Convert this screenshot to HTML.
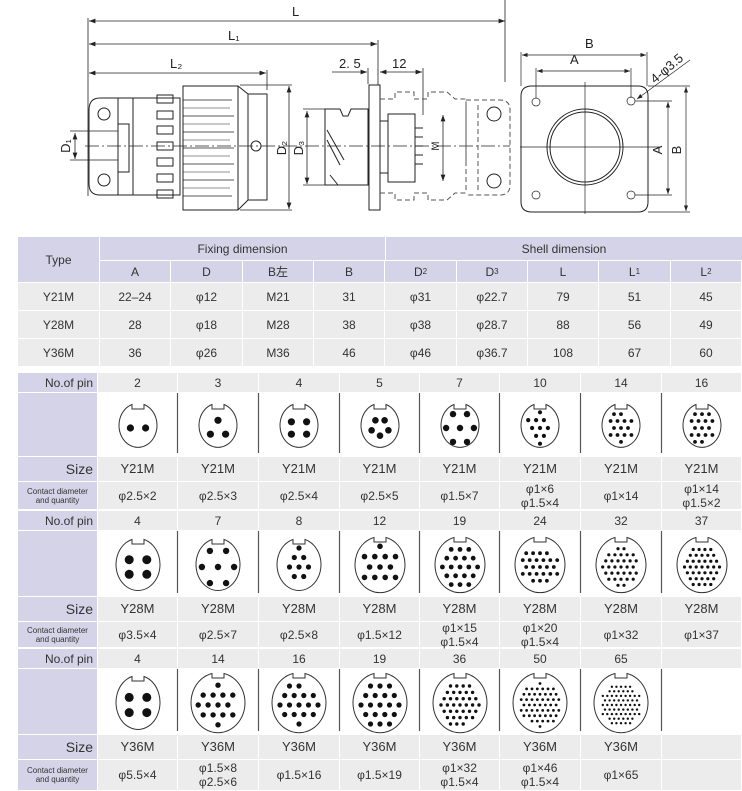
<!DOCTYPE html>
<html><head><meta charset="utf-8"><style>
body{margin:0;width:742px;height:791px;background:#fff;position:relative;overflow:hidden;font-family:"Liberation Sans","Noto Sans CJK SC",sans-serif;color:#333}
.c{position:absolute;display:flex;align-items:center;justify-content:center;text-align:center;font-size:12px;line-height:14px}
.lav{background:#d5d3e7}.gr{background:#ececec}
svg{position:absolute;left:0;top:0}
</style></head><body>
<svg width="742" height="230" viewBox="0 0 742 230" fill="none" stroke="#222" stroke-width="1" font-family="Liberation Sans" font-size="13">
<defs><marker id="a" markerWidth="8" markerHeight="6" refX="8" refY="3" orient="auto-start-reverse"><path d="M0,0L8,3L0,6z" fill="#222" stroke="none"/></marker></defs>
<g stroke-width="0.8">
<line x1="88" y1="18" x2="88" y2="196"/>
<line x1="89" y1="21" x2="505" y2="21" marker-start="url(#a)" marker-end="url(#a)"/>
<line x1="89" y1="44" x2="377" y2="44" marker-start="url(#a)" marker-end="url(#a)"/>
<line x1="89" y1="73" x2="266" y2="73" marker-start="url(#a)" marker-end="url(#a)"/>
<line x1="267" y1="70" x2="267" y2="90"/>
<line x1="378" y1="40" x2="378" y2="85"/>
<line x1="505" y1="0" x2="505" y2="82"/>
<line x1="75" y1="133" x2="75" y2="159" marker-start="url(#a)" marker-end="url(#a)"/>
<line x1="70" y1="131" x2="118" y2="131"/><line x1="70" y1="160" x2="118" y2="160"/>
<line x1="289" y1="86" x2="289" y2="209" marker-start="url(#a)" marker-end="url(#a)"/>
<line x1="240" y1="85" x2="292" y2="85"/><line x1="240" y1="210" x2="292" y2="210"/>
<line x1="307" y1="111" x2="307" y2="184" marker-start="url(#a)" marker-end="url(#a)"/>
<line x1="303" y1="109" x2="325" y2="109"/><line x1="303" y1="185" x2="325" y2="185"/>
<line x1="332" y1="72" x2="367" y2="72" marker-end="url(#a)"/>
<line x1="368" y1="68" x2="368" y2="84"/>
<line x1="380" y1="72" x2="422" y2="72" marker-start="url(#a)" marker-end="url(#a)"/>
<line x1="423" y1="68" x2="423" y2="115"/>
<line x1="443" y1="115" x2="443" y2="181" marker-start="url(#a)" marker-end="url(#a)"/>
<line x1="85" y1="146" x2="510" y2="146" stroke-dasharray="14,3,2,3"/>
</g>
<text x="292" y="16" stroke="none" fill="#222">L</text>
<text x="228" y="40" stroke="none" fill="#222">L₁</text>
<text x="170" y="68" stroke="none" fill="#222">L₂</text>
<text x="339" y="68" stroke="none" fill="#222">2. 5</text>
<text x="392" y="68" stroke="none" fill="#222">12</text>
<text transform="translate(70,146) rotate(-90)" text-anchor="middle" stroke="none" fill="#222">D₁</text>
<text transform="translate(286,148) rotate(-90)" text-anchor="middle" stroke="none" fill="#222">D₂</text>
<text transform="translate(303,148) rotate(-90)" text-anchor="middle" stroke="none" fill="#222">D₃</text>
<text transform="translate(439,146) rotate(-90)" text-anchor="middle" stroke="none" fill="#222" font-size="11">M</text>
<path d="M118,98H100Q89,98 89,110V184Q89,195 100,195H118Z"/>
<circle cx="104" cy="114" r="6"/><circle cx="104" cy="180" r="6"/>
<rect x="118" y="98" width="15" height="97"/><rect x="133" y="98" width="47" height="97"/>
<rect x="118" y="124" width="11" height="48"/>
<g>
<rect x="157" y="95" width="16" height="8"/><rect x="157" y="111" width="16" height="8"/><rect x="157" y="126" width="16" height="8"/><rect x="157" y="142" width="16" height="8"/><rect x="157" y="158" width="16" height="8"/><rect x="157" y="174" width="16" height="8"/><rect x="157" y="190" width="16" height="8"/>
</g>
<path d="M183,86H238V210H183Z"/>
<path d="M183,100H232M183,116H234M183,132H234M183,148H234M183,164H234M183,180H234M183,196H232" stroke-width="0.8"/>
<path d="M183,108H230M183,124H230M183,140H230M183,156H230M183,172H230M183,188H230" stroke-width="0.6"/>
<path d="M238,86L248,94V200L238,210"/>
<rect x="248" y="94" width="19" height="106"/>
<circle cx="256" cy="146" r="5"/>
<path d="M325,109H340L343,116H348L351,109H368V185H325Z"/>
<path d="M327,130L344,160M327,140L340,165M330,175L338,185"/>
<rect x="369" y="85" width="11" height="125"/>
<rect x="380" y="121" width="8" height="52"/>
<rect x="388" y="114" width="27" height="68"/>
<path d="M415,128H423M415,137H423M415,146H423M415,155H423M415,164H423"/>
<g stroke-dasharray="5,3" stroke="#555">
<path d="M380,99H395V92H414V99H428V92H447L455,99H466V165M380,193H395V200H414V193H428V200H447L455,193H466"/>
<path d="M466,100H500Q510,100 510,110V185Q510,195 500,195H466"/>
<path d="M466,105V190M478,105V190"/>
</g>
<circle cx="494" cy="114" r="7"/><circle cx="494" cy="181" r="7"/>
<path d="M532,86H638Q648,86 648,96V202Q648,212 638,212H532Q521,212 521,202V96Q521,86 532,86Z"/>
<circle cx="585" cy="147" r="38"/><circle cx="585" cy="147" r="35"/>
<g stroke-width="0.7">
<circle cx="536" cy="102" r="4"/><circle cx="631" cy="101" r="4"/><circle cx="536" cy="195" r="4"/><circle cx="631" cy="195" r="4"/>
<line x1="585" y1="82" x2="585" y2="214"/><line x1="520" y1="147" x2="660" y2="147"/>
<line x1="521" y1="52" x2="521" y2="86"/><line x1="647" y1="52" x2="647" y2="86"/>
<line x1="522" y1="55" x2="646" y2="55" marker-start="url(#a)" marker-end="url(#a)"/>
<line x1="536" y1="68" x2="536" y2="98"/><line x1="631" y1="68" x2="631" y2="98"/>
<line x1="537" y1="71" x2="630" y2="71" marker-start="url(#a)" marker-end="url(#a)"/>
<line x1="635" y1="101" x2="672" y2="101"/><line x1="635" y1="195" x2="672" y2="195"/>
<line x1="668" y1="102" x2="668" y2="194" marker-start="url(#a)" marker-end="url(#a)"/>
<line x1="648" y1="86" x2="690" y2="86"/><line x1="648" y1="212" x2="690" y2="212"/>
<line x1="686" y1="87" x2="686" y2="211" marker-start="url(#a)" marker-end="url(#a)"/>
<line x1="690" y1="60" x2="637" y2="99" marker-end="url(#a)"/>
</g>
<text x="585" y="48" stroke="none" fill="#222">B</text>
<text x="570" y="64" stroke="none" fill="#222">A</text>
<text transform="translate(662,150) rotate(-90)" text-anchor="middle" stroke="none" fill="#222">A</text>
<text transform="translate(681,150) rotate(-90)" text-anchor="middle" stroke="none" fill="#222">B</text>
<text transform="translate(655,84) rotate(-40)" stroke="none" fill="#222">4-φ3.5</text>
</svg>

<div class="c lav" style="left:18px;top:237px;width:81px;height:45px">Type</div>
<div class="c lav" style="left:100px;top:237px;width:285px;height:23px">Fixing dimension</div>
<div class="c lav" style="left:386px;top:237px;width:356px;height:23px">Shell dimension</div>
<div id="t1"></div>

<div id="t2"></div>
<svg id="faces" width="742" height="791"></svg>

<script>
var t1=document.getElementById('t1'),h='';
var cols=['A','D','B左','B','D<sub style="font-size:8px">2</sub>','D<sub style="font-size:8px">3</sub>','L','L<sub style="font-size:8px">1</sub>','L<sub style="font-size:8px">2</sub>'];
var rows=[['Y21M','22–24','φ12','M21','31','φ31','φ22.7','79','51','45'],['Y28M','28','φ18','M28','38','φ38','φ28.7','88','56','49'],['Y36M','36','φ26','M36','46','φ46','φ36.7','108','67','60']];
function cx(i){return Math.round(100+i*71.33);}
for(var i=0;i<9;i++)h+='<div class="c lav" style="left:'+cx(i)+'px;top:261px;width:'+(cx(i+1)-cx(i)-1)+'px;height:21px">'+cols[i]+'</div>';
for(var r=0;r<3;r++){var y=283+r*28;h+='<div class="c gr" style="left:18px;top:'+y+'px;width:81px;height:27px">'+rows[r][0]+'</div>';
for(i=0;i<9;i++)h+='<div class="c gr" style="left:'+cx(i)+'px;top:'+y+'px;width:'+(cx(i+1)-cx(i)-1)+'px;height:27px">'+rows[r][i+1]+'</div>';}
t1.innerHTML=h;

var X=[98,178,259,340,420,500,581,662,742];
var blocks=[
{y:[373,393,457,482,510],size:'Y21M',pins:[2,3,4,5,7,10,14,16],lab:['2','3','4','5','7','10','14','16'],
 cd:['φ2.5×2','φ2.5×3','φ2.5×4','φ2.5×5','φ1.5×7','φ1×6<br>φ1.5×4','φ1×14','φ1×14<br>φ1.5×2'],rx:19,ry:22},
{y:[511,531,597,622,648],size:'Y28M',pins:[4,7,8,12,19,24,32,37],lab:['4','7','8','12','19','24','32','37'],
 cd:['φ3.5×4','φ2.5×7','φ2.5×8','φ1.5×12','φ1×15<br>φ1.5×4','φ1×20<br>φ1.5×4','φ1×32','φ1×37'],rx:25,ry:28},
{y:[649,669,735,760,791],size:'Y36M',pins:[4,14,16,19,36,50,65],lab:['4','14','16','19','36','50','65'],
 cd:['φ5.5×4','φ1.5×8<br>φ2.5×6','φ1.5×16','φ1.5×19','φ1×32<br>φ1.5×4','φ1×46<br>φ1.5×4','φ1×65'],rx:27,ry:30}];
h='';var s='';
blocks.forEach(function(b,bi){var y=b.y;
 h+='<div class="c lav" style="left:18px;top:'+y[0]+'px;width:79px;height:'+(y[1]-y[0]-1)+'px;justify-content:flex-end;padding-right:4px;box-sizing:border-box;font-size:12px">No.of pin</div>';
 h+='<div class="c lav" style="left:18px;top:'+y[1]+'px;width:79px;height:'+(y[2]-y[1]-1)+'px"></div>';
 h+='<div class="c lav" style="left:18px;top:'+y[2]+'px;width:79px;height:'+(y[3]-y[2]-1)+'px;justify-content:flex-end;padding-right:4px;box-sizing:border-box;font-size:14px">Size</div>';
 h+='<div class="c lav" style="left:18px;top:'+y[3]+'px;width:79px;height:'+(y[4]-y[3]-1)+'px;font-size:8px;line-height:9px">Contact diameter<br>and quantity</div>';
 for(var i=0;i<8;i++){var w=X[i+1]-X[i]-1,has=i<b.pins.length;
  h+='<div class="c gr" style="left:'+X[i]+'px;top:'+y[0]+'px;width:'+w+'px;height:'+(y[1]-y[0]-1)+'px">'+(has?b.lab[i]:'')+'</div>';
  h+='<div class="c gr" style="left:'+X[i]+'px;top:'+y[2]+'px;width:'+w+'px;height:'+(y[3]-y[2]-1)+'px;font-size:13px">'+(has?b.size:'')+'</div>';
  h+='<div class="c gr" style="left:'+X[i]+'px;top:'+y[3]+'px;width:'+w+'px;height:'+(y[4]-y[3]-1)+'px">'+(has?b.cd[i]:'')+'</div>';
  if(i>0)s+='<line x1="'+(X[i]-0.5)+'" y1="'+y[1]+'" x2="'+(X[i]-0.5)+'" y2="'+(y[2]-4)+'" stroke="#555" stroke-width="1.2"/>';
  if(has){var n=b.pins[i],ccx=X[i]+40,ccy=(y[1]+y[2])/2+1,rx=b.rx,ry=b.ry;
   if(n<=5){rx=bi==2?22:(bi==1?21:19);ry=bi==2?27:(bi==1?25:22);}
   if(bi==1&&n<=8){rx=22;ry=26;}
   s+='<path d="M'+(ccx-6)+','+(ccy-ry+0.5)+'A'+rx+','+ry+' 0 1 0 '+(ccx+6)+','+(ccy-ry+0.5)+'L'+(ccx+6)+','+(ccy-ry+5)+'L'+(ccx-6)+','+(ccy-ry+5)+'Z" fill="#fff" stroke="#333" stroke-width="1"/>';
   s+=dots(ccx,ccy+2,rx,ry,n);}
 }
});
document.getElementById('t2').innerHTML=h;
function dots(cx,cy,rx,ry,n){var p=[],r;
 if(n<=5){var big=n<=4?3.6:3.3;var sx=rx*0.4,sy=ry*0.35;
  var pat={2:[[-1,0],[1,0]],3:[[0,-1],[-1,0.8],[1,0.8]],4:[[-1,-0.8],[1,-0.8],[-1,0.8],[1,0.8]],5:[[-0.6,-1],[0.6,-1],[-1.1,0.3],[1.1,0.3],[0,1]]}[n];
  pat.forEach(function(q){p.push([cx+q[0]*sx,cy+q[1]*sy]);});r=n<=4&&ry>24?4.5:big;}
 else{var sp=Math.min(rx,ry)*0.9;
  for(var it=0;it<80;it++){var pts=[];var K=Math.ceil(ry/sp);
   for(var k=-K;k<=K;k++){var yy=k*sp;var M=Math.ceil(rx/sp)+1;
    for(var m=-M;m<=M;m++){var xx=m*sp+((k%2)?sp/2:0);
     var d=(xx*xx)/(rx*rx*0.55)+(yy*yy)/(ry*ry*0.55);if(d<=1)pts.push([cx+xx,cy+yy,d]);}}
   if(pts.length>=n){pts.sort(function(a,b){return a[2]-b[2];});p=pts.slice(0,n);break;}sp*=0.96;}
  r=Math.max(1.2,Math.min(3.2,sp*0.27));}
 return p.map(function(q){return '<circle cx="'+q[0].toFixed(1)+'" cy="'+q[1].toFixed(1)+'" r="'+r.toFixed(1)+'" fill="#111"/>';}).join('');}
document.getElementById('faces').innerHTML=s;
</script>
</body></html>
